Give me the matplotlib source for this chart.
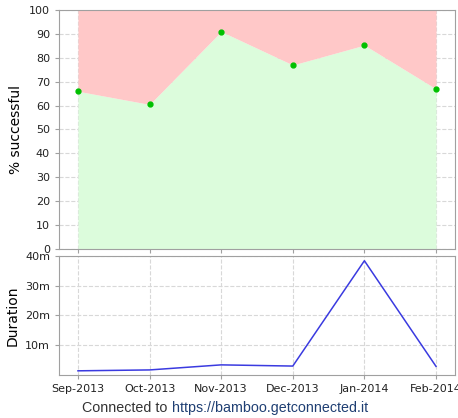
import matplotlib.pyplot as plt
import numpy as np

months = ['Sep-2013', 'Oct-2013', 'Nov-2013', 'Dec-2013', 'Jan-2014', 'Feb-2014']
success = [66, 60.5, 91, 77, 85.3, 67]
duration_min = [1.4, 1.7, 3.4, 3.0, 38.4, 2.9]

x = np.arange(len(months))
spine_col = '#a0a0a0'
grid_kw = dict(color='#d8d8d8', linestyle='--', linewidth=0.8)

fig = plt.figure(figsize=(4.58, 4.18), dpi=100)
ax1 = fig.add_axes([0.1288, 0.4043, 0.8646, 0.5718])
ax2 = fig.add_axes([0.1288, 0.1029, 0.8646, 0.2847])

# success rate
ax1.set_axisbelow(True)
ax1.grid(True, **grid_kw)
ax1.fill_between(x, 0, success, color='#dcfcdc', linewidth=0, zorder=2)
ax1.fill_between(x, success, 100, color='#ffc8c8', linewidth=0, zorder=2)
ax1.plot(x, success, 'o', color='#00c000', markersize=3.5, zorder=3)
ax1.set_xlim(-0.265, 5.265)
ax1.set_ylim(0, 100)
ax1.set_yticks(range(0, 101, 10))
ax1.set_xticks(x)
ax1.tick_params(axis='x', length=0, labelbottom=False)
ax1.set_ylabel('% successful', fontsize=10)

# duration
ax2.set_axisbelow(True)
ax2.grid(True, **grid_kw)
ax2.plot(x, duration_min, color='#3a3ae0', linewidth=1.1)
ax2.set_xlim(-0.265, 5.265)
ax2.set_ylim(0, 40)
ax2.set_yticks([10, 20, 30, 40])
ax2.set_yticklabels(['10m', '20m', '30m', '40m'])
ax2.set_xticks(x)
ax2.set_xticklabels(months)
ax2.set_ylabel('Duration', fontsize=10)

for ax in (ax1, ax2):
    for s in ax.spines.values():
        s.set_color(spine_col)
    ax.tick_params(colors=spine_col, labelcolor='#222222', labelsize=8, length=3)

# footer: grey prefix, blue link right after it
t1 = fig.text(0.179, 0.015, 'Connected to', ha='left', fontsize=10.3,
              family='Liberation Sans', color='#333333')
fig.add_artist(plt.Annotation('https://bamboo.getconnected.it', xy=(1, 0),
                              xycoords=t1, xytext=(3, 0), textcoords='offset points',
                              ha='left', va='bottom', fontsize=10.3,
                              family='Liberation Sans', color='#1f3f73'))

plt.savefig('out.png', dpi=100)
